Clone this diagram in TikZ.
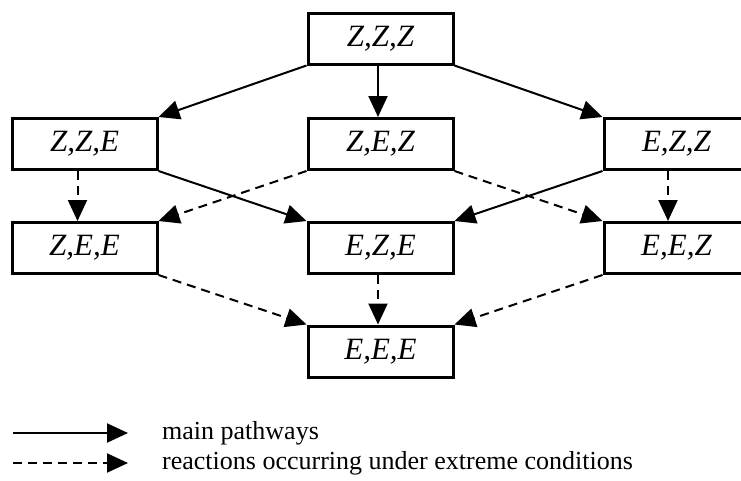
\documentclass[tikz,border=0pt]{standalone}
\usepackage{fontspec}
\setmainfont{Liberation Serif}
\usetikzlibrary{arrows.meta}
\begin{document}
\begin{tikzpicture}[x=1pt,y=-1pt,
  box/.style={draw,line width=3pt,minimum width=145pt,minimum height=51pt,inner sep=0pt,
    font=\fontsize{31}{34}\selectfont\itshape},
  main/.style={line width=2pt,-{Triangle[length=21pt,width=19pt]}},
  extreme/.style={main,dash pattern=on 9pt off 6pt},
  legtext/.style={anchor=west,inner sep=0pt,font=\fontsize{26}{30}\selectfont}]
\useasboundingbox (0,0) rectangle (741,480);
\clip (0,0) rectangle (741,480);
\node[box] (zzz) at (380.5,38.5) {Z,Z,Z};
\node[box] (zze) at (84.5,144) {Z,Z,E};
\node[box] (zez) at (380.5,144) {Z,E,Z};
\node[box] (ezz) at (676.5,144) {E,Z,Z};
\node[box] (zee) at (84.5,248) {Z,E,E};
\node[box] (eze) at (380.5,248) {E,Z,E};
\node[box] (eez) at (676.5,248) {E,E,Z};
\node[box] (eee) at (380.5,351.5) {E,E,E};
% main pathways
\draw[main] (zzz.south west) -- (zze.north east);
\draw[main] ([xshift=-2.5pt]zzz.south) -- ([xshift=-2.5pt]zez.north);
\draw[main] (zzz.south east) -- (ezz.north west);
\draw[main] (zze.south east) -- (eze.north west);
\draw[main] (ezz.south west) -- (eze.north east);
% extreme conditions
\draw[extreme] ([xshift=-7pt]zze.south) -- ([xshift=-7pt]zee.north);
\draw[extreme] ([xshift=-8.5pt]ezz.south) -- ([xshift=-8.5pt]eez.north);
\draw[extreme] ([xshift=-2.5pt]eze.south) -- ([xshift=-2.5pt]eee.north);
\draw[extreme] (zez.south west) -- (zee.north east);
\draw[extreme] (zez.south east) -- (eez.north west);
\draw[extreme] (zee.south east) -- (eee.north west);
\draw[extreme] (eez.south west) -- (eee.north east);
% legend
\coordinate (l1a) at (13,433);
\coordinate (l1b) at (128,433);
\coordinate (l2a) at (13,463);
\coordinate (l2b) at (128,463);
\draw[main] (l1a) -- (l1b);
\draw[extreme] (l2a) -- (l2b);
\node[legtext] (t1) at (162,433) {main pathways};
\node[legtext] (t2) at (162,463) {reactions occurring under extreme conditions};
\end{tikzpicture}
\end{document}
